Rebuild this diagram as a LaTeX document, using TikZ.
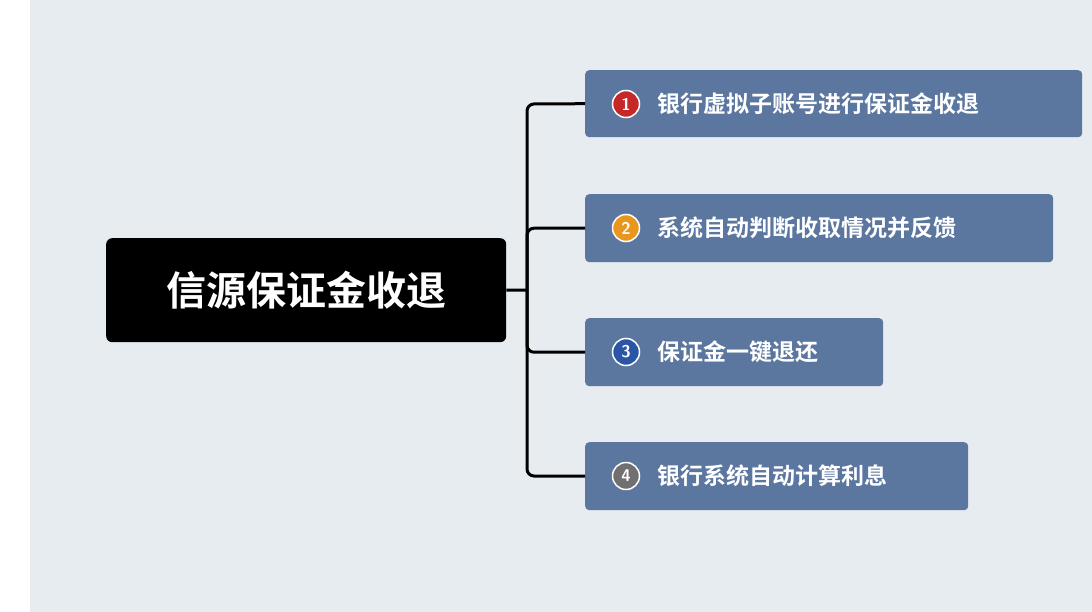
\documentclass[tikz,border=0pt]{standalone}
\usepackage{fontspec}
\newfontfamily\cjk{Noto Sans CJK SC}[BoldFont={Noto Sans CJK SC Bold}]
\definecolor{bg}{HTML}{E6ECEF}
\definecolor{boxc}{HTML}{5B77A0}
\definecolor{bred}{HTML}{C62828}
\definecolor{borange}{HTML}{E8961E}
\definecolor{bblue}{HTML}{2B56A8}
\definecolor{bgray}{HTML}{707070}
\begin{document}
\begin{tikzpicture}[x=1pt,y=-1pt,
  item/.style={fill=boxc,rounded corners=4pt,anchor=north west,inner sep=0},
  badge/.style={circle,draw=white,line width=1.5pt,minimum size=27pt,inner sep=0,text=white,font=\sffamily\bfseries\fontsize{17}{17}\selectfont},
  lbl/.style={anchor=west,text=white,font=\cjk\bfseries\fontsize{23}{23}\selectfont,inner sep=0},
  conn/.style={line width=3pt,rounded corners=7pt}]
\useasboundingbox (0,0) rectangle (1092,612);
\fill[white] (0,0) rectangle (1092,612);
\fill[bg] (30,0) rectangle (1092,612);
\node[fill=black,rounded corners=6pt,minimum width=400pt,minimum height=104pt,anchor=north west,inner sep=0] (c) at (106,238) {};
\node[text=white,font=\cjk\bfseries\fontsize{40}{40}\selectfont] (ct) at (306,290) {信源保证金收退};
\node[item,minimum width=497pt,minimum height=67pt] (b1) at (585,70) {};
\node[item,minimum width=468pt,minimum height=68pt] (b2) at (585,194) {};
\node[item,minimum width=298pt,minimum height=68pt] (b3) at (585,318) {};
\node[item,minimum width=383pt,minimum height=68pt] (b4) at (585,442) {};
\node[badge,fill=bred] (n1) at (626,104) {1};
\node[badge,fill=borange] (n2) at (626,228) {2};
\node[badge,fill=bblue] (n3) at (626,352) {3};
\node[badge,fill=bgray] (n4) at (626,476) {4};
\node[lbl] (t1) at (657,104) {银行虚拟子账号进行保证金收退};
\node[lbl] (t2) at (657,228) {系统自动判断收取情况并反馈};
\node[lbl] (t3) at (657,352) {保证金一键退还};
\node[lbl] (t4) at (657,476) {银行系统自动计算利息};
\coordinate (j) at (527,290);
\draw[conn] (b1.west) -- (527,104) -- (527,476) -- (b4.west);
\draw[conn] (c.east) -- (j);
\draw[conn] (j) |- (b2.west);
\draw[conn] (j) |- (b3.west);
\end{tikzpicture}
\end{document}
